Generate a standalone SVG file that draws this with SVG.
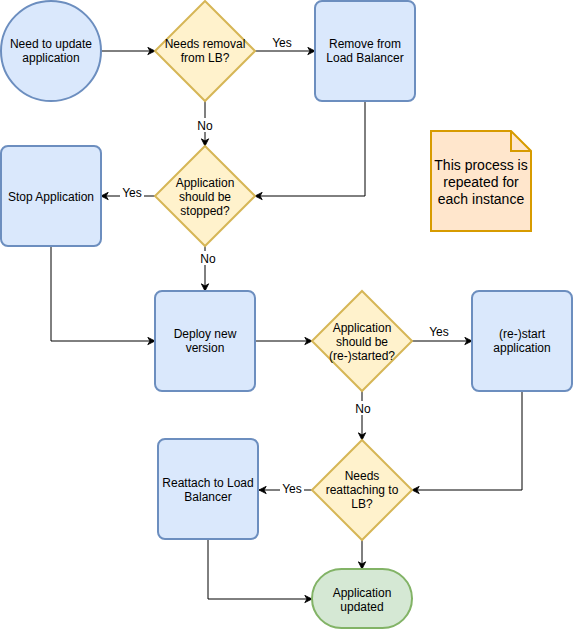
<svg xmlns="http://www.w3.org/2000/svg" width="573" height="630" viewBox="0 0 573 630">
<defs>
<marker id="arr" viewBox="0 0 10 10" refX="9" refY="5" markerWidth="9" markerHeight="9" markerUnits="userSpaceOnUse" orient="auto">
<path d="M1,1 L9,5 L1,9 L3.5,5 z" fill="#000" stroke="#000" stroke-width="1"/>
</marker>
</defs>
<style>
text{font-family:"Liberation Sans",Arial,Helvetica,sans-serif;font-size:12px;fill:#000;text-anchor:middle}
.blue{fill:#dae8fc;stroke:#6c8ebf;stroke-width:2}
.yel{fill:#fff2cc;stroke:#d6b656;stroke-width:2}
.grn{fill:#d5e8d4;stroke:#82b366;stroke-width:2}
.note{fill:#ffe6cc;stroke:#d79b00;stroke-width:2}
.e{fill:none;stroke:#000;stroke-width:1;marker-end:url(#arr)}
.lb{fill:#fff}
.nt{font-size:14px}
</style>
<rect width="573" height="630" fill="#fff"/>
<g id="connectors">
<path class="e" d="M101,51 L155,51"/>
<path class="e" d="M255,51 L315,51"/>
<path class="e" d="M205,101 L205,146"/>
<path class="e" d="M155,196 L101,196"/>
<path class="e" d="M365,101 L365,196 L255,196"/>
<path class="e" d="M205,246 L205,291"/>
<path class="e" d="M51,246 L51,341 L155,341"/>
<path class="e" d="M255,341 L312,341"/>
<path class="e" d="M412,341 L472,341"/>
<path class="e" d="M362,391 L362,440"/>
<path class="e" d="M522,391 L522,490 L412,490"/>
<path class="e" d="M312,490 L259,490"/>
<path class="e" d="M362,540 L362,569"/>
<path class="e" d="M208,539 L208,599 L312,599"/>
<rect class="lb" x="270" y="35" width="24" height="14"/><text x="282" y="47">Yes</text>
<rect class="lb" x="196" y="118" width="18" height="14"/><text x="205" y="130">No</text>
<rect class="lb" x="120" y="185" width="24" height="14"/><text x="132" y="197">Yes</text>
<rect class="lb" x="199" y="251" width="18" height="14"/><text x="208" y="263">No</text>
<rect class="lb" x="427" y="324" width="24" height="14"/><text x="439" y="336">Yes</text>
<rect class="lb" x="354" y="401" width="18" height="14"/><text x="363" y="413">No</text>
<rect class="lb" x="280" y="481" width="24" height="14"/><text x="292" y="493">Yes</text>
</g>
<g id="start">
<circle class="blue" cx="51" cy="51" r="50"/>
<text x="51" y="48">Need to update</text><text x="51" y="62">application</text>
</g>
<g id="d-removal">
<path class="yel" d="M205,1 L255,51 L205,101 L155,51 Z"/>
<text x="205" y="48">Needs removal</text><text x="205" y="62">from LB?</text>
</g>
<g id="remove-lb">
<rect class="blue" x="315" y="1" width="100" height="100" rx="7"/>
<text x="365" y="48">Remove from</text><text x="365" y="62">Load Balancer</text>
</g>
<g id="d-stop">
<path class="yel" d="M205,146 L255,196 L205,246 L155,196 Z"/>
<text x="205" y="187">Application</text><text x="205" y="201">should be</text><text x="205" y="215">stopped?</text>
</g>
<g id="stop-app">
<rect class="blue" x="1" y="146" width="100" height="100" rx="7"/>
<text x="51" y="201">Stop Application</text>
</g>
<g id="deploy">
<rect class="blue" x="155" y="291" width="100" height="100" rx="7"/>
<text x="205" y="338">Deploy new</text><text x="205" y="352">version</text>
</g>
<g id="d-restart">
<path class="yel" d="M362,291 L412,341 L362,391 L312,341 Z"/>
<text x="362" y="332">Application</text><text x="362" y="346">should be</text><text x="362" y="360">(re-)started?</text>
</g>
<g id="restart">
<rect class="blue" x="472" y="291" width="100" height="100" rx="7"/>
<text x="522" y="338">(re-)start</text><text x="522" y="352">application</text>
</g>
<g id="d-reattach">
<path class="yel" d="M362,440 L412,490 L362,540 L312,490 Z"/>
<text x="362" y="480">Needs</text><text x="362" y="494">reattaching to</text><text x="362" y="508">LB?</text>
</g>
<g id="reattach">
<rect class="blue" x="158" y="439" width="100" height="100" rx="7"/>
<text x="208" y="487">Reattach to Load</text><text x="208" y="501">Balancer</text>
</g>
<g id="end">
<rect class="grn" x="312" y="569" width="100" height="59" rx="29.5"/>
<text x="362" y="597">Application</text><text x="362" y="611">updated</text>
</g>
<g id="note">
<path class="note" d="M431,131 L511,131 L531,151 L531,231 L431,231 Z"/>
<path d="M511,131 L511,151 L531,151" fill="none" stroke="#d79b00" stroke-width="2"/>
<text class="nt" x="481" y="170">This process is</text><text class="nt" x="481" y="187">repeated for</text><text class="nt" x="481" y="204">each instance</text>
</g>
</svg>
